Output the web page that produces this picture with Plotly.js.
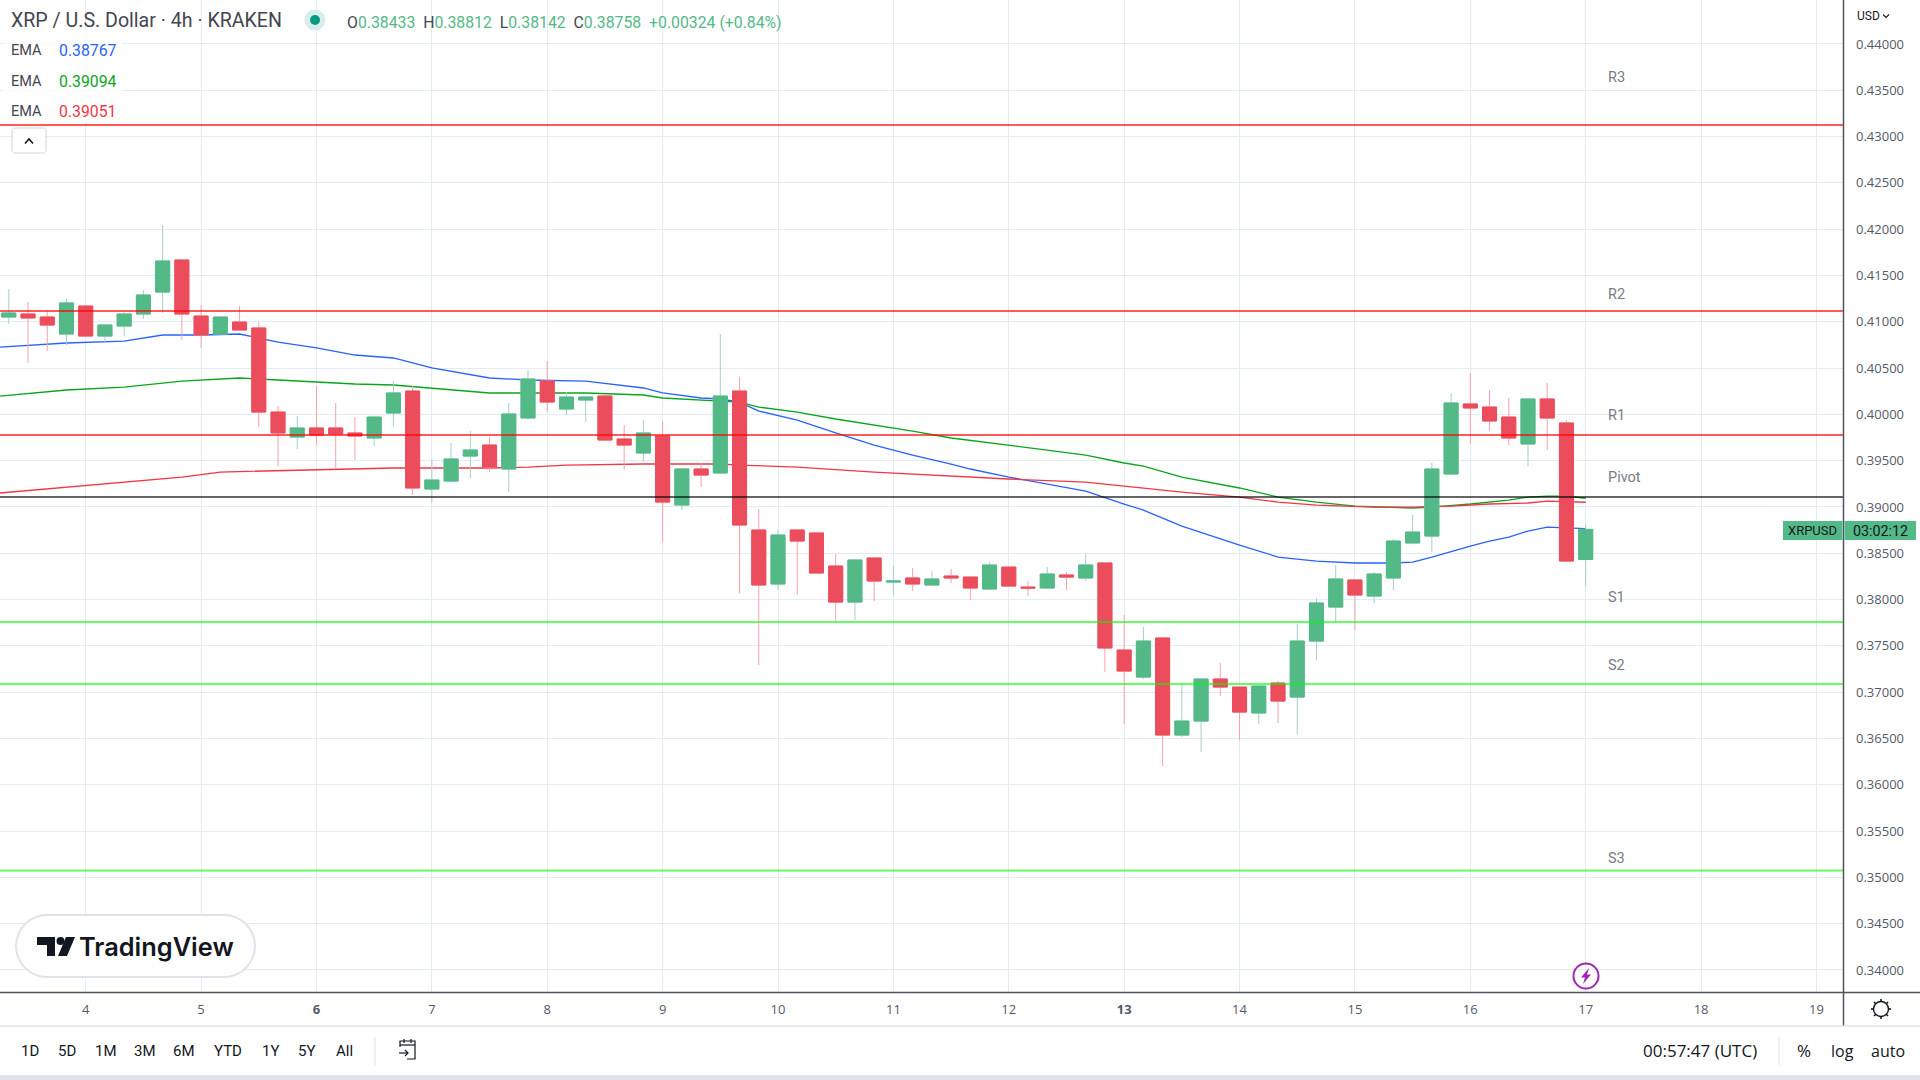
<!DOCTYPE html>
<html><head><meta charset="utf-8">
<script src="https://cdn.plot.ly/plotly-3.0.1.min.js"></script>
<style>html,body{margin:0;padding:0;background:#fff}#c{width:1920px;height:1080px}</style>
</head><body><div id="c"></div>
<script>
// candles: position index counted in 4h slots from the "4" day label
const firstSlot = -4;
const opens = [.41051,.41084,.41051,.40868,.41170,.40846,.40954,.41084,.41321,.41667,.41062,.40868,.40997,.40933,.40025,.39755,.39853,.39853,.39799,.39745,.40015,.40252,.39194,.39280,.39550,.39669,.39410,.39961,.40360,.40058,.40155,.40198,.39734,.39583,.39766,.39021,.39410,.39367,.40252,.38751,.38168,.38751,.38719,.38362,.37973,.38449,.38189,.38233,.38157,.38254,.38243,.38114,.38351,.38135,.38125,.38265,.38233,.38395,.37455,.37163,.37585,.36537,.36688,.37142,.37055,.36775,.37099,.36947,.37552,.37919,.38211,.38038,.38233,.38611,.38686,.39356,.40112,.40079,.39971,.39680,.40166,.39907,.38433];
const highs = [.41354,.41213,.41116,.41246,.41181,.40976,.41105,.41343,.42045,.41667,.41181,.41051,.41170,.40997,.40090,.39982,.40306,.40123,.39971,.39971,.40360,.40306,.39518,.39691,.39820,.39755,.40123,.40479,.40576,.40241,.40198,.40220,.39885,.39939,.39928,.39421,.39475,.40868,.40403,.38978,.38751,.38762,.38719,.38492,.38438,.38449,.38373,.38341,.38308,.38330,.38243,.38405,.38351,.38200,.38351,.38297,.38492,.38395,.37833,.37704,.37585,.37099,.37142,.37315,.37055,.37077,.37120,.37736,.38017,.38373,.38211,.38297,.38654,.38913,.39475,.40231,.40447,.40263,.40177,.40166,.40339,.39939,.38812];
const lows = [.40976,.40555,.40684,.40749,.40846,.40781,.40846,.41030,.41095,.40803,.40717,.40868,.40911,.39863,.39442,.39626,.39669,.39410,.39507,.39658,.39874,.39129,.39043,.39269,.39313,.39377,.39161,.39950,.40025,.39993,.39917,.39723,.39399,.39485,.38621,.38967,.39215,.39356,.38071,.37293,.38103,.38049,.38287,.37768,.37779,.37984,.38049,.38092,.38146,.38179,.37995,.38114,.38146,.38038,.38114,.38103,.38200,.37218,.36656,.37142,.36202,.36515,.36353,.36958,.36483,.36656,.36667,.36548,.37347,.37757,.37671,.37963,.38103,.38611,.38513,.39356,.39680,.39820,.39669,.39442,.39615,.38416,.38142];
const closes = [.41095,.41041,.40965,.41203,.40846,.40965,.41084,.41289,.41656,.41084,.40857,.41051,.40911,.40025,.39799,.39853,.39777,.39788,.39766,.39971,.40231,.39205,.39291,.39518,.39615,.39431,.40004,.40382,.40133,.40187,.40187,.39723,.39669,.39799,.39053,.39410,.39345,.40198,.38805,.38157,.38697,.38632,.38287,.37973,.38427,.38200,.38200,.38168,.38222,.38233,.38125,.38373,.38146,.38125,.38276,.38243,.38373,.37477,.37228,.37552,.36537,.36688,.37142,.37055,.36785,.37066,.36904,.37552,.37963,.38222,.38049,.38276,.38632,.38729,.39410,.40123,.40069,.39928,.39745,.40166,.39961,.38416,.38758];

const emaBlueSlots = [-4.46,-1,2,4,6,8,10,12,14,16,18,21,23,26,29,30,32,33,34,35,37,39,41,43,45,46,48,50,52,54,55,57,59,60,62,64,66,68,69,70,72,73,74,75,76,77,78];
const emaBlue = [.40727,.40771,.40792,.40857,.40857,.40868,.40781,.40717,.40641,.40609,.40501,.40393,.40371,.40360,.40285,.40231,.40177,.40166,.40133,.40036,.39939,.39799,.39669,.39561,.39464,.39410,.39323,.39248,.39172,.39032,.38967,.38794,.38654,.38589,.38459,.38416,.38395,.38395,.38405,.38459,.38578,.38632,.38675,.38740,.38783,.38772,.38767];
const emaGreenSlots = [-4.46,-1,2,5,8,10,12,14,16,18,21,23,26,29,30,33,34,35,37,39,41,43,45,48,50,52,54,55,57,59,60,62,64,66,68,69,70,72,74,75,76,77,78];
const emaGreen = [.40198,.40263,.40295,.40360,.40393,.40371,.40349,.40328,.40317,.40285,.40231,.40231,.40231,.40209,.40177,.40144,.40133,.40079,.40025,.39950,.39885,.39820,.39745,.39669,.39615,.39561,.39475,.39442,.39323,.39248,.39205,.39107,.39053,.39010,.38999,.38989,.38999,.39032,.39075,.39107,.39118,.39118,.39094];
const emaRedSlots = [-4.46,-1,2,5,7,9,12,14,16,18,21,23,25,29,33,34,37,41,45,48,52,54,57,60,62,64,67,69,71,73,75,76,78];
const emaRed = [.39151,.39215,.39269,.39323,.39377,.39388,.39399,.39410,.39421,.39421,.39421,.39431,.39453,.39464,.39464,.39453,.39431,.39377,.39334,.39302,.39269,.39226,.39161,.39107,.39053,.39021,.38999,.38999,.39010,.39032,.39043,.39064,.39051];

const levelNames = ['R3','R2','R1','Pivot','S1','S2','S3'];
const levelPrices = [.43125,.41117,.39778,.39108,.37758,.37089,.35073];
const levelLabelPrices = [.43643,.41300,.39989,.39323,.38027,.37293,.35209];
const levelColors = ['rgba(255,0,0,.65)','rgba(255,0,0,.65)','rgba(255,0,0,.65)','rgba(0,0,0,.6)','rgba(0,255,0,.6)','rgba(0,255,0,.6)','rgba(0,255,0,.6)'];

const dayLabels = ['4','5','<b>6</b>','7','8','9','10','11','12','<b>13</b>','14','15','16','17','18','19'];
const daySlots = dayLabels.map((_, i) => i * 6);
const priceTicks = [.34,.345,.35,.355,.36,.365,.37,.375,.38,.385,.39,.395,.40,.405,.41,.415,.42,.425,.43,.435,.44];
const rangeButtons = [['1D',30],['5D',67],['1M',106],['3M',145],['6M',184],['YTD',228],['1Y',270],['5Y',306],['All',344]];

const slots = opens.map((_, i) => firstSlot + i);
const G_BODY='#53b987', R_BODY='#eb4d5c', G_WICK='#a5cfcb', R_WICK='#f7a1ab';
const W=1843, H=992;
const px=x=>x/W, py=y=>1-y/H;

function ema(xs,ys,c){return {type:'scatter',mode:'lines',x:xs,y:ys,line:{color:c,width:1.3,shape:'linear'},zorder:-1,hoverinfo:'skip',showlegend:false};}
const traces=[
 ema(emaBlueSlots,emaBlue,'#2962ff'),ema(emaGreenSlots,emaGreen,'#0aa51e'),ema(emaRedSlots,emaRed,'#f23645'),
 {type:'candlestick',x:slots,open:opens,high:highs,low:lows,close:closes,whiskerwidth:0,showlegend:false,hoverinfo:'skip',
  increasing:{line:{color:G_WICK,width:1},fillcolor:G_WICK},decreasing:{line:{color:R_WICK,width:1},fillcolor:R_WICK}},
 {type:'candlestick',x:slots,open:opens,close:closes,
  high:opens.map((o,i)=>Math.max(o,closes[i])),low:opens.map((o,i)=>Math.min(o,closes[i])),
  whiskerwidth:0,showlegend:false,hoverinfo:'skip',
  increasing:{line:{color:G_BODY,width:1},fillcolor:G_BODY},decreasing:{line:{color:R_BODY,width:1},fillcolor:R_BODY}}
];

const shapes=[];
const hline=(y,x0,x1,c,w)=>shapes.push({type:'line',xref:'paper',yref:'paper',x0:px(x0),x1:px(x1),y0:py(y),y1:py(y),line:{color:c,width:w}});
const vline=(x,y0,y1,c,w)=>shapes.push({type:'line',xref:'paper',yref:'paper',x0:px(x),x1:px(x),y0:py(y0),y1:py(y1),line:{color:c,width:w}});
const rect=(x0,y0,x1,y1,fill,line,lw)=>shapes.push({type:'rect',xref:'paper',yref:'paper',x0:px(x0),x1:px(x1),y0:py(y0),y1:py(y1),fillcolor:fill,line:{color:line||'rgba(0,0,0,0)',width:lw||0}});
const circle=(cx,cy,r,fill,line,lw)=>shapes.push({type:'circle',xref:'paper',yref:'paper',x0:px(cx-r),x1:px(cx+r),y0:py(cy-r),y1:py(cy+r),fillcolor:fill,line:{color:line||'rgba(0,0,0,0)',width:lw||0}});
const path=(pts,fill,line,lw,close=true)=>shapes.push({type:'path',xref:'paper',yref:'paper',
  path:pts.map((p,i)=>(i?'L':'M')+px(p[0])+' '+py(p[1])).join(' ')+(close?' Z':''),fillcolor:fill||'rgba(0,0,0,0)',line:{color:line||'rgba(0,0,0,0)',width:lw||0}});

levelPrices.forEach((p,i)=>shapes.push({type:'line',xref:'paper',yref:'y',x0:0,x1:1,y0:p,y1:p,line:{color:levelColors[i],width:2}}));
// legend backing
rect(3,30,122,123,'rgba(255,255,255,.8)');
// frame lines
hline(992.5,0,1920,'#50535e',1.5);
vline(1843.5,0,1026,'#50535e',1.5);
hline(1026,0,1920,'#e0e3eb',1.5);
rect(0,1075,1920,1080,'#e0e3eb');
vline(375,1037,1065,'#e0e3eb',1);
vline(1779,1037,1065,'#e0e3eb',1);
// status dot
circle(315,20,10.5,'#d7eeea');
circle(315,20,5,'#089981');
// collapse button
function roundRect(x0,y0,x1,y1,r,fill,line,lw){
 const ef=(cx,cy,a0)=>{const a=[];for(let i=0;i<=8;i++){const t=a0+i*Math.PI/16;a.push([cx+r*Math.cos(t),cy+r*Math.sin(t)]);}return a;};
 path([...ef(x1-r,y0+r,-Math.PI/2),...ef(x1-r,y1-r,0),...ef(x0+r,y1-r,Math.PI/2),...ef(x0+r,y0+r,Math.PI)],fill,line,lw);
}
roundRect(12,128,46,153,3,'#fff','#d1d4dc',1);
path([[25,143.5],[29,139],[33,143.5]],null,'#131722',1.6,false);
// logo
roundRect(16,915,255,977,31,'#fff','#e0e3eb',2);
path([[37,937],[55,937],[55,956],[47,956],[47,945],[37,945]],'#131722');
circle(60.5,941,4,'#131722');
path([[66,937],[75,937],[67,956],[58,956]],'#131722');
// lightning badge
circle(1586,976,12.5,'rgba(255,255,255,0)','#9c27b0',2);
path([[1589,968],[1581,977.5],[1585,977.5],[1583,984],[1591,974.5],[1587,974.5]],'#9c27b0');
// price label
rect(1783,521,1842.5,540,'#53b987');
rect(1844.5,521,1916,540,'#53b987');
// calendar icon
path([[400,1047],[400,1041],[415,1041],[415,1059],[407,1059]],null,'#131722',1.2,false);
hline(1045,400,415,'#131722',1.2);
vline(404,1039,1043,'#131722',1.2);
vline(411,1039,1043,'#131722',1.2);
hline(1053,399,408,'#131722',1.2);
path([[405,1050],[408,1053],[405,1056]],null,'#131722',1.2,false);
// gear
circle(1881,1009,7.5,'#fff','#131722',1.4);
[[0,-1],[0,1],[1,0],[-1,0],[.7,.7],[-.7,.7],[.7,-.7],[-.7,-.7]].forEach(d=>path([[1881+d[0]*7.5,1009+d[1]*7.5],[1881+d[0]*10,1009+d[1]*10]],null,'#131722',1.6,false));

const FONT='Open Sans, sans-serif', HEAD='Roboto, sans-serif';
const anns=[];
const txt=(x,y,t,o={})=>anns.push(Object.assign({xref:'paper',yref:'paper',x:px(x),y:py(y),text:t,showarrow:false,xanchor:'left',yanchor:'middle',borderpad:0,
  font:{family:o.family||HEAD,size:o.size||14,color:o.color||'#131722',weight:o.weight}},o.anchor?{xanchor:o.anchor}:{}));
const gv=s=>`<span style="color:#53b987">${s}</span>`;
txt(10,21,'XRP / U.S. Dollar · 4h · KRAKEN',{size:19.6,color:'#434651'});
txt(346,22,`O${gv('0.38433')}  H${gv('0.38812')}  L${gv('0.38142')}  C${gv('0.38758')}  ${gv('+0.00324 (+0.84%)')}`,{size:15.8,color:'#434651'});
[[51,'0.38767','#2962ff'],[81,'0.39094','#0aa51e'],[111,'0.39051','#f23645']].forEach(r=>{
 txt(10,r[0],'EMA',{size:14.5,color:'#434651'});
 txt(57.5,r[0],r[1],{size:15.8,color:r[2]});
});
levelNames.forEach((n,i)=>anns.push({xref:'x',yref:'y',x:79.04,y:levelLabelPrices[i],text:n,showarrow:false,xanchor:'left',yanchor:'middle',font:{family:HEAD,size:14.5,color:'#787b86'}}));
txt(1856,16,'USD',{size:12,color:'#131722'});
path([[1883,14.5],[1886,17.5],[1889,14.5]],null,'#131722',1.1,false);
txt(1812.5,530.5,'XRPUSD',{size:13,color:'#131722',anchor:'center'});
txt(1880.5,530.5,'03:02:12',{size:14.3,color:'#131722',anchor:'center'});
txt(77.5,946,'TradingView',{size:25.4,color:'#131722',family:'Inter, sans-serif',weight:600});
rangeButtons.forEach(b=>txt(b[1],1050.5,b[0],{size:15,anchor:'center'}));
txt(1700,1050.5,'00:57:47 (UTC)',{size:17,family:FONT,anchor:'center'});
txt(1804,1050.5,'%',{size:17,family:FONT,anchor:'center'});
txt(1842,1050.5,'log',{size:16,family:FONT,anchor:'center'});
txt(1888,1050.5,'auto',{size:16,family:FONT,anchor:'center'});

const layout={
 width:1920,height:1080,margin:{l:0,r:77,t:0,b:88,pad:0},paper_bgcolor:'#fff',plot_bgcolor:'#fff',showlegend:false,
 boxmode:'overlay',boxgap:0.27,boxgroupgap:0,
 xaxis:{type:'linear',range:[-4.457,91.38],tickvals:daySlots,ticktext:dayLabels,showgrid:true,gridcolor:'#e3ecf2',gridwidth:1,zeroline:false,
  ticks:'',showline:false,rangeslider:{visible:false},tickfont:{family:FONT,size:13,color:'#555a66'},ticklabelstandoff:8},
 yaxis:{side:'right',range:[.33762,.44475],tickvals:priceTicks,tickformat:'.5f',showgrid:true,gridcolor:'#e3ecf2',gridwidth:1,zeroline:false,
  ticks:'',showline:false,tickfont:{family:FONT,size:13,color:'#555a66'},ticklabelstandoff:12},
 shapes:shapes,annotations:anns
};
Plotly.newPlot('c',traces,layout,{displayModeBar:false,staticPlot:true});
</script></body></html>
